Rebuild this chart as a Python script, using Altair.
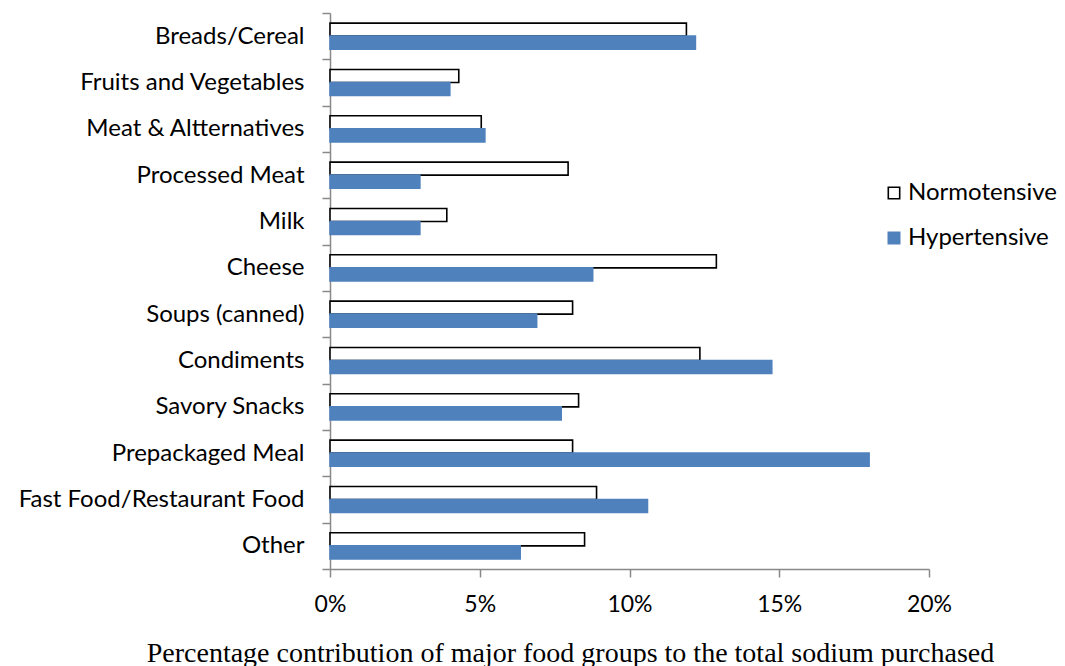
import altair as alt
import pandas as pd

# Food groups, listed top to bottom
categories = [
    "Breads/Cereal",
    "Fruits and Vegetables",
    "Meat & Altternatives",
    "Processed Meat",
    "Milk",
    "Cheese",
    "Soups (canned)",
    "Condiments",
    "Savory Snacks",
    "Prepackaged Meal",
    "Fast Food/Restaurant Food",
    "Other",
]

groups = ["Normotensive", "Hypertensive"]

# Share of total sodium purchased (fraction)
normotensive = [0.119, 0.043, 0.0505, 0.0795, 0.039, 0.129, 0.081, 0.1235, 0.083, 0.081, 0.089, 0.085]
hypertensive = [0.122, 0.040, 0.0517, 0.030, 0.030, 0.0877, 0.069, 0.1475, 0.0772, 0.180, 0.106, 0.0635]

x_ticks = [0, 0.05, 0.10, 0.15, 0.20]

rows = []
for cat, n, h in zip(categories, normotensive, hypertensive):
    rows.append({"category": cat, "group": "Normotensive", "value": n})
    rows.append({"category": cat, "group": "Hypertensive", "value": h})
df = pd.DataFrame(rows)

label_font = "Lato"
axis_gray = "#898989"

chart = (
    alt.Chart(df)
    .mark_bar(strokeWidth=1.6)
    .encode(
        x=alt.X(
            "value:Q",
            scale=alt.Scale(domain=[0, 0.2], nice=False),
            axis=alt.Axis(
                values=x_ticks,
                format=".0%",
                grid=False,
                tickSize=8,
                tickColor=axis_gray,
                tickWidth=1.5,
                domainColor=axis_gray,
                domainWidth=1.5,
                labelFont=label_font,
                labelFontSize=23,
                labelColor="black",
                labelPadding=16,
                labelFlush=False,
                title="Percentage contribution of major food groups to the total sodium purchased",
                titleFont="Liberation Serif",
                titleFontSize=28,
                titleFontWeight="normal",
                titleColor="black",
                titleX=240,
                titleY=92,
                titleAlign="center",
                titleBaseline="alphabetic",
            ),
        ),
        y=alt.Y(
            "category:N",
            sort=categories,
            scale=alt.Scale(paddingInner=0, paddingOuter=0),
            axis=alt.Axis(
                title=None,
                tickBand="extent",
                tickSize=8,
                tickColor=axis_gray,
                tickWidth=1.5,
                domainColor=axis_gray,
                domainWidth=1.5,
                labelFont=label_font,
                labelFontSize=24,
                labelColor="black",
                labelPadding=18,
                labelLimit=0,
            ),
        ),
        yOffset=alt.YOffset(
            "group:N",
            sort=groups,
            scale=alt.Scale(paddingInner=0, paddingOuter=0.78),
        ),
        color=alt.Color(
            "group:N",
            sort=groups,
            scale=alt.Scale(domain=groups, range=["white", "#4F81BD"]),
            legend=alt.Legend(
                title=None,
                orient="none",
                legendX=552,
                legendY=168,
                symbolType="square",
                symbolSize=130,
                symbolStrokeWidth=1.6,
                labelFont=label_font,
                labelFontSize=24,
                labelColor="black",
                labelOffset=2,
                labelLimit=0,
                rowPadding=21,
                padding=0,
            ),
        ),
        stroke=alt.Stroke(
            "group:N",
            sort=groups,
            scale=alt.Scale(domain=groups, range=["black", "#4F81BD"]),
            legend=None,
        ),
    )
    .properties(
        width=599,
        height=556,
        padding={"left": 330, "top": 13, "right": 136, "bottom": 97},
        autosize=alt.AutoSizeParams(type="none"),
        background="white",
    )
    .configure_view(stroke=None)
)

chart.save("out.html", embed_options={"renderer": "svg", "actions": False})
